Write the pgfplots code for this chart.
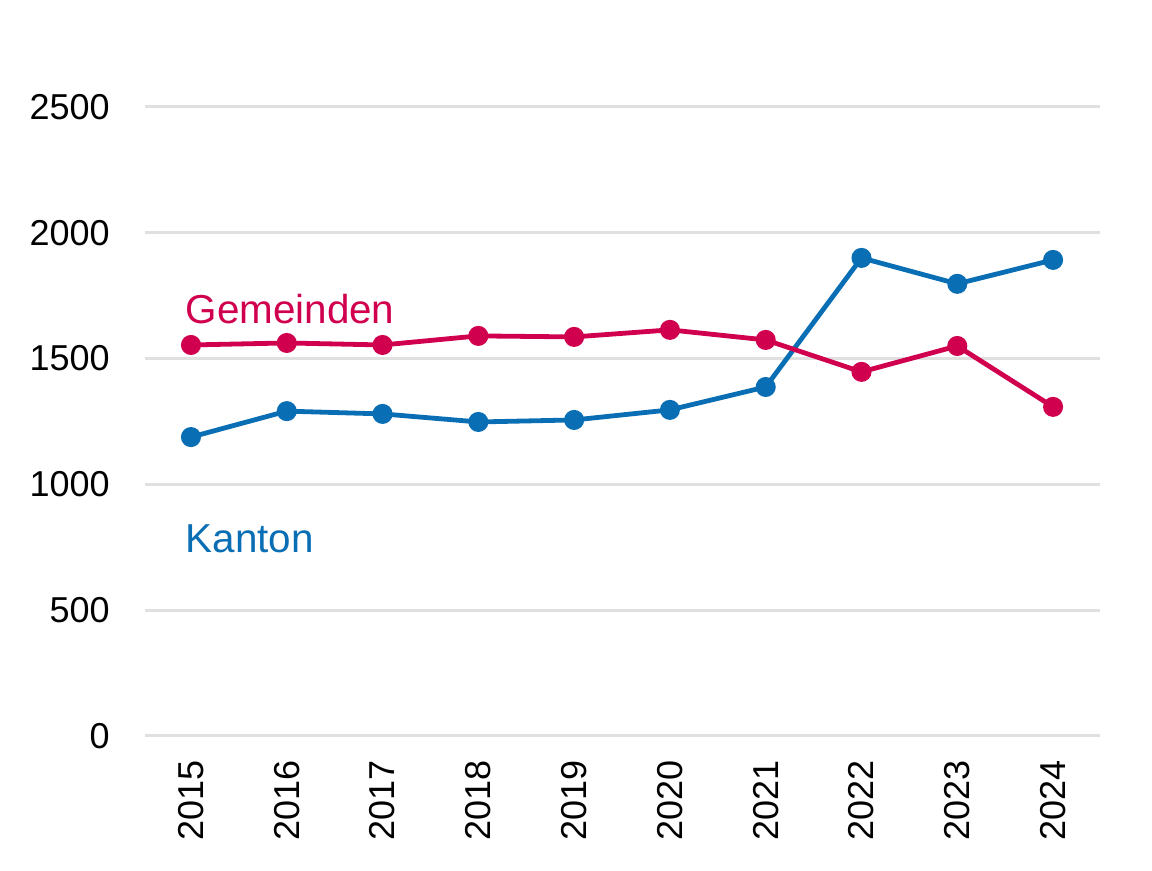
\documentclass[border=0pt]{standalone}
\usepackage{fontspec}
\setmainfont{Liberation Sans}
\usepackage{pgfplots}
\pgfplotsset{compat=1.18}
\definecolor{gemeinden}{HTML}{D0004F}
\definecolor{kanton}{HTML}{0A6EB4}
\definecolor{gridgray}{HTML}{E0E0E0}
\begin{document}
\fontsize{18}{21.6}\selectfont
\begin{tikzpicture}
\useasboundingbox (-72.5pt,-67.5pt) rectangle (503.5pt,368pt);
\begin{axis}[
    at={(0,0)}, anchor=south west,
    scale only axis,
    width=477.5pt, height=368pt,
    xmin=2014.52, xmax=2024.49,
    ymin=0, ymax=2925,
    axis lines=left,
    axis line style={draw=none},
    major tick length=0pt,
    tick style={draw=none},
    xtick={2015,...,2024},
    ytick={0,500,...,2500},
    ymajorgrids,
    grid style={draw=gridgray, line width=1.5pt},
    /pgf/number format/assume math mode=true,
    /pgf/number format/1000 sep={},
    xticklabel style={rotate=90, anchor=east},
    xticklabel shift=6pt,
    yticklabel shift=11.5pt,
    tick label style={font=\fontsize{18}{21.6}\selectfont},
    clip=false,
]
\addplot[color=kanton, line width=2.4pt, mark=*, mark size=3.8pt] coordinates {
    (2015,1188) (2016,1291) (2017,1280) (2018,1248) (2019,1256)
    (2020,1296) (2021,1387) (2022,1900) (2023,1797) (2024,1892)
};
\addplot[color=gemeinden, line width=2.4pt, mark=*, mark size=3.8pt] coordinates {
    (2015,1554) (2016,1562) (2017,1554) (2018,1590) (2019,1586)
    (2020,1614) (2021,1574) (2022,1447) (2023,1550) (2024,1308)
};
\node[anchor=base west, inner sep=0pt, text=gemeinden, font=\fontsize{20.2}{24}\selectfont] at (axis cs:2014.94,1641) {Gemeinden};
\node[anchor=base west, inner sep=0pt, text=kanton, font=\fontsize{20.2}{24}\selectfont] at (axis cs:2014.94,731) {Kanton};
\end{axis}
\end{tikzpicture}
\end{document}
